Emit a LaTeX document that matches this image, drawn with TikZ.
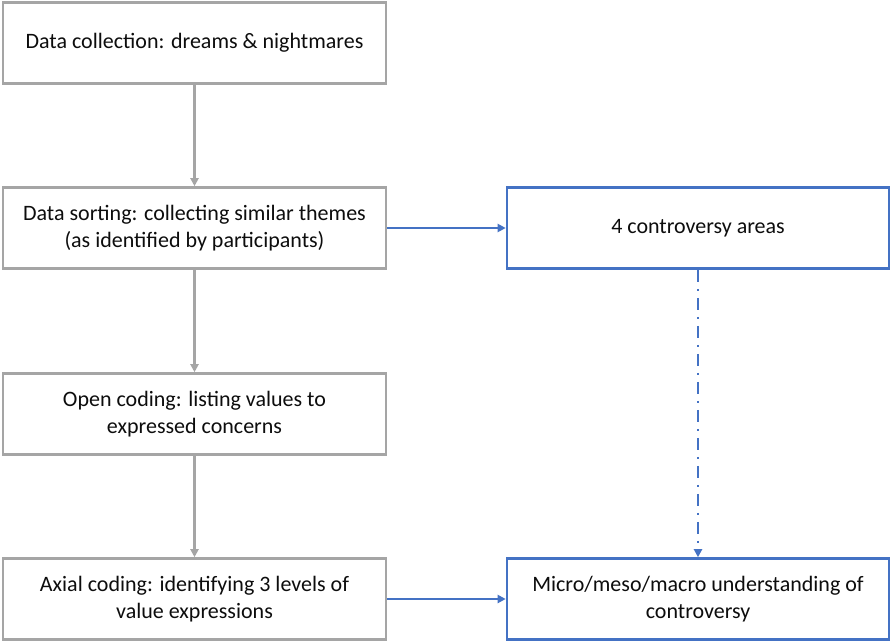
\documentclass[tikz,border=0pt]{standalone}
\usepackage{fontspec}
\setmainfont{Carlito}
\usetikzlibrary{arrows.meta}
\definecolor{boxgray}{HTML}{A5A5A5}
\definecolor{boxblue}{HTML}{4472C4}
\definecolor{txt}{HTML}{0D0D0D}
\begin{document}
\begin{tikzpicture}[x=1pt,y=1pt,
  stepbox/.style={draw=boxgray, line width=2.6pt, fill=white, minimum width=383pt, minimum height=81pt,
    inner sep=0pt, align=center, text=txt, font=\fontsize{22}{27}\selectfont},
  bluebox/.style={stepbox, draw=boxblue, minimum width=382pt},
  grayarrow/.style={draw=boxgray, line width=2.2pt, -{Triangle[length=8pt,width=8pt]}},
  bluearrow/.style={draw=boxblue, line width=2.8pt, -{Triangle[length=8pt,width=8pt]}},
  dotdash/.style={draw=boxblue, line width=2.8pt, dash pattern=on 12pt off 7pt on 2pt off 7pt, -{Triangle[length=8pt,width=8pt]}}
]
\useasboundingbox (0,0) rectangle (890,641);
\node[stepbox] (collect) at (194.5,598) {Data collection: dreams \& nightmares};
\node[stepbox] (sort) at (194.5,413) {Data sorting: collecting similar themes\\(as identified by participants)};
\node[stepbox] (open) at (194.5,227) {Open coding: listing values to\\expressed concerns};
\node[stepbox] (axial) at (194.5,42) {Axial coding: identifying 3 levels of\\value expressions};
\node[bluebox] (areas) at (698,413) {4 controversy areas};
\node[bluebox] (levels) at (698,42) {Micro/meso/macro understanding of\\controversy};
\draw[grayarrow] (collect) -- (sort);
\draw[grayarrow] (sort) -- (open);
\draw[grayarrow] (open) -- (axial);
\draw[bluearrow] (sort) -- (areas);
\draw[bluearrow] (axial) -- (levels);
\draw[dotdash] (areas) -- (levels);
\end{tikzpicture}
\end{document}
